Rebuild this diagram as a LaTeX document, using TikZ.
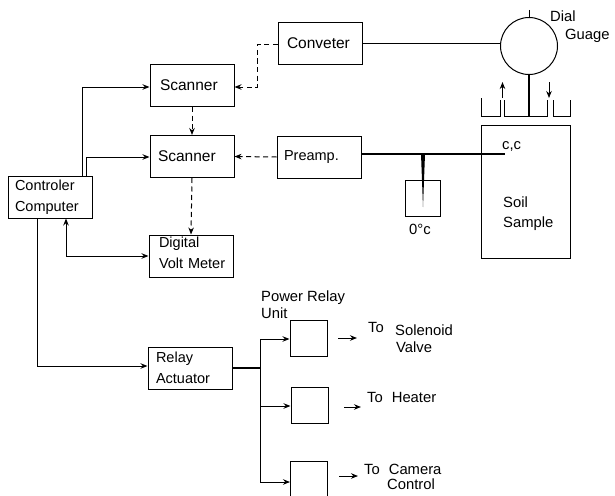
\documentclass[tikz,border=0pt]{standalone}
\usepackage{fontspec}
\setmainfont{Liberation Sans}
\usetikzlibrary{arrows.meta}
\tikzset{
  boxed/.style={draw,line width=1pt,inner sep=0pt,minimum height=42pt,minimum width=84pt,align=center,font=\fontsize{14.5}{20.5}\selectfont},
  leftbox/.style={boxed,align=left,text width=84pt-2*#1,inner xsep=#1},
  bigtext/.style={font=\fontsize{15.5}{20.5}\selectfont},
  small/.style={draw,line width=1pt,minimum width=37pt,minimum height=36pt,inner sep=0pt},
  lab/.style={inner sep=0pt,font=\fontsize{14.8}{15}\selectfont},
  wire/.style={line width=1pt},
  heavy/.style={line width=1.5pt},
  arr/.style={wire,-{Stealth[length=7pt,width=5.5pt]}},
  arrb/.style={wire,{Stealth[length=7pt,width=5.5pt]}-{Stealth[length=7pt,width=5.5pt]}},
  dasharr/.style={wire,dash pattern=on 5pt off 3.5pt,-{Stealth[length=7pt,width=5.5pt]}}
}
\begin{document}
\begin{tikzpicture}[x=1pt,y=-1pt]
\useasboundingbox (0,0) rectangle (615,495);
\clip (0,0) rectangle (615,495);
\fill[white] (0,0) rectangle (615,495);
% boxes
\node[leftbox=9pt,bigtext] (conv) at (320,43.5) {Conveter};
\node[leftbox=10pt,bigtext] (scan1) at (192,85.5) {Scanner};
\node[leftbox=8pt,bigtext] (scan2) at (192,156.5) {Scanner};
\node[leftbox=7pt] (pre) at (319,157) {Preamp.};
\node[leftbox=7pt] (ctrl) at (50,197) {Controler\\Computer};
\node[leftbox=10pt] (dvm) at (191,256) {Digital\\\mbox{Volt Meter}\\[-14pt]\mbox{}};
\node[leftbox=8pt] (relay) at (190,368) {Relay\\Actuator};
\node[small] (p1) at (308.5,338) {};
\node[small] (p2) at (309.5,405) {};
\node[small,minimum height=39pt] (p3) at (309,480.5) {};
\node[draw,circle,line width=1pt,minimum size=57pt,inner sep=0pt] (dial) at (529,46) {};
\node[draw,line width=1pt,minimum width=89pt,minimum height=133pt,inner sep=0pt] (soil) at (525.5,191.5) {};
\node[draw,line width=1pt,minimum width=35pt,minimum height=36pt,inner sep=0pt] (cup) at (422.5,198) {};
% labels
\node[lab,anchor=west] (lblcc) at (502,146) {c,c};
\node[lab,anchor=west] (lblsoil) at (503,202) {Soil};
\node[lab,anchor=west] (lblsample) at (503,224) {Sample};
\node[lab] (lblzero) at (420,229) {0°c};
\node[lab,anchor=west] (lbldial) at (550,16) {Dial};
\node[lab,anchor=west] (lblguage) at (565,36) {Guage};
\node[lab,anchor=west] (lblpower) at (261,298) {Power Relay};
\node[lab,anchor=west] (lblunit) at (261,313) {Unit};
\node[lab,anchor=west] (lblto1) at (368,327) {To};
\node[lab,anchor=west] (lblsol) at (395,330) {Solenoid};
\node[lab,anchor=west] (lblvalve) at (396,347) {Valve};
\node[lab,anchor=west] (lblto2) at (367,397) {To\hspace{9pt}Heater};
\node[lab,anchor=west] (lblto3) at (364,469) {To\hspace{9pt}Camera};
\node[lab,anchor=west] (lblctl) at (387,484) {Control};
% coordinates
\coordinate (c1) at (82,87);
\coordinate (c2) at (86,157);
\coordinate (c3) at (257,45);
\coordinate (c4) at (257,87);
\coordinate (c5) at (66,256);
\coordinate (c6) at (37,366);
\coordinate (b0) at (260,368);
\coordinate (b1) at (260,339);
\coordinate (b2) at (260,406);
\coordinate (b3) at (260,482);
% connectors
\draw[arr] (c1 |- ctrl.north) -- (c1) -- (c1 -| scan1.west);
\draw[arr] (c2 |- ctrl.north) -- (c2) -- (c2 -| scan2.west);
\draw[dasharr] (c3 -| conv.west) -- (c3) -- (c4) -- (c4 -| scan1.east);
\draw[dasharr] (scan1.south) -- (scan2.north);
\draw[dasharr] (pre.west) -- (scan2.east);
\draw[dasharr] (scan2.south) -- (dvm.north);
\draw[arrb] (c5 |- ctrl.south) -- (c5) -- (dvm.west);
\draw[arr] (c6 |- ctrl.south) -- (c6) -- (c6 -| relay.west);
\draw[heavy] (relay.east) -- (b0);
\draw[wire] (b1) -- (b3);
\draw[arr] (b1) -- (b1 -| p1.west);
\draw[arr] (b2) -- (b2 -| p2.west);
\draw[arr] (b3) -- (b3 -| p3.west);
\coordinate (o1a) at (338,338); \coordinate (o1b) at (357,338);
\coordinate (o2a) at (344,407); \coordinate (o2b) at (361,407);
\coordinate (o3a) at (339,476); \coordinate (o3b) at (358,476);
\draw[arr] (o1a) -- (o1b);
\draw[arr] (o2a) -- (o2b);
\draw[arr] (o3a) -- (o3b);
% dial gauge
\draw[wire] (conv.east) -- (conv.east -| dial.west);
\coordinate (stub) at (529,10);
\draw[wire] (stub) -- (dial.north);
\coordinate (plate) at (529,116);
\draw[heavy] (dial.south) -- (plate);
% container top
\coordinate (pl) at (481,116); \coordinate (pr) at (570,116);
\draw[wire] (481,98) -- (pl) -- (500,116) -- (500,100);
\draw[wire] (504,100) -- (504,116) -- (547,116) -- (547,100);
\draw[wire] (553,100) -- (553,116) -- (pr) -- (570,100);
\coordinate (u1) at (502.5,98); \coordinate (u2) at (502.5,82);
\coordinate (d1) at (549,82); \coordinate (d2) at (549,98);
\draw[arr] (u1) -- (u2);
\draw[arr] (d1) -- (d2);
% thermocouple
\coordinate (tip) at (505,154);
\coordinate (tee) at (423,154);
\coordinate (teeb) at (423,207);
\draw[heavy] (pre.east |- tip) -- (tip);
\fill (tee) ++(-2,0) -- ++(4,0) -- (teeb) -- cycle;
\end{tikzpicture}
\end{document}
